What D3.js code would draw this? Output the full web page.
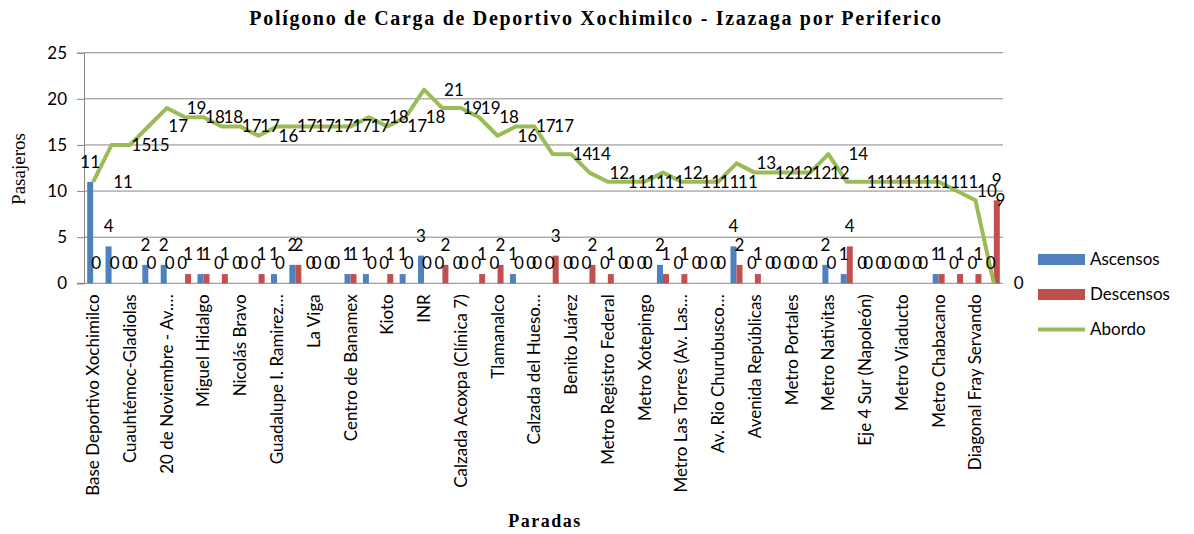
<!DOCTYPE html>
<html>
<head>
    <meta charset="utf-8">
    <style>
        body {
            margin: 0;
            background: white;
        }

        svg {
            display: block;
            font-family: Lato, 'Open Sans', sans-serif;
        }

        .titulo {
            font-family: 'Liberation Serif', 'Times New Roman', serif;
            font-weight: bold;
        }
    </style>
</head>
<body>
    <svg width="1194" height="534"></svg>

<script src="https://d3js.org/d3.v7.min.js"></script>
<script>
    // labels shown under the axis (every other stop)
    let etiquetas = [
        "Base Deportivo Xochimilco", "Cuauhtémoc-Gladiolas", "20 de Noviembre - Av.…",
        "Miguel Hidalgo", "Nicolás Bravo", "Guadalupe I. Ramirez…", "La Viga",
        "Centro de Banamex", "Kioto", "INR", "Calzada Acoxpa (Clínica 7)", "Tlamanalco",
        "Calzada del Hueso…", "Benito Juárez", "Metro Registro Federal", "Metro Xotepingo",
        "Metro Las Torres (Av. Las…", "Av. Rio Churubusco…", "Avenida Repúblicas",
        "Metro Portales", "Metro Nativitas", "Eje 4 Sur (Napoleón)", "Metro Viaducto",
        "Metro Chabacano", "Diagonal Fray Servando"
    ]

    let ascensos = [11, 4, 0, 2, 2, 0, 1, 0, 0, 0, 1, 2, 0, 0, 1, 1, 0, 1, 3, 0,
        0, 0, 0, 1, 0, 0, 0, 0, 0, 0, 0, 2, 0, 0, 0, 4, 0, 0, 0, 0,
        2, 1, 0, 0, 0, 0, 1, 0, 0, 0]
    let descensos = [0, 0, 0, 0, 0, 1, 1, 1, 0, 1, 0, 2, 0, 0, 1, 0, 1, 0, 0, 2,
        0, 1, 2, 0, 0, 3, 0, 2, 1, 0, 0, 1, 1, 0, 0, 2, 1, 0, 0, 0,
        0, 4, 0, 0, 0, 0, 1, 1, 1, 9]
    let abordo = [11, 15, 15, 17, 19, 18, 18, 17, 17, 16, 17, 17, 17, 17, 17, 18, 17, 18, 21, 19,
        19, 18, 16, 17, 17, 14, 14, 12, 11, 11, 11, 12, 11, 11, 11, 13, 12, 12, 12, 12,
        14, 11, 11, 11, 11, 11, 11, 10, 9, 0]

    let yTicks = [0, 5, 10, 15, 20, 25]

    let series = [
        { name: "Ascensos", color: "#4F81BD" },
        { name: "Descensos", color: "#C0504D" },
        { name: "Abordo", color: "#9BBB59" }
    ]

    let svg = d3.select("svg")
    let plotLeft = 84, plotRight = 1003, plotTop = 52.7, plotBottom = 283.3
    let labelFont = 17

    let x = d3.scaleBand()
        .domain(d3.range(abordo.length))
        .range([plotLeft, plotRight])

    let y = d3.scaleLinear()
        .domain([0, 25])
        .range([plotBottom, plotTop])

    // gridlines + y axis
    let yAxis = svg.append("g")
        .attr("transform", `translate(${plotLeft},0)`)
        .call(d3.axisLeft(y).tickValues(yTicks).tickSize(7).tickPadding(10))
    yAxis.select(".domain").attr("stroke", "#868686")
    yAxis.selectAll(".tick line").attr("stroke", "#868686")
    yAxis.selectAll(".tick text")
        .style("font-size", "17px")
        .style("font-family", "Lato, sans-serif")
        .attr("fill", "#000")

    svg.append("g")
        .selectAll("line")
        .data(yTicks.filter(d => d > 0))
        .join("line")
        .attr("x1", plotLeft)
        .attr("x2", plotRight)
        .attr("y1", d => y(d))
        .attr("y2", d => y(d))
        .attr("stroke", "#868686")
        .attr("stroke-width", 1)

    // x axis line
    svg.append("line")
        .attr("x1", plotLeft - 7)
        .attr("x2", plotRight)
        .attr("y1", plotBottom)
        .attr("y2", plotBottom)
        .attr("stroke", "#868686")

    let barW = 6
    let mid = i => x(i) + x.bandwidth() / 2

    // bars
    svg.append("g")
        .selectAll("rect")
        .data(ascensos)
        .join("rect")
        .attr("x", (d, i) => mid(i) - barW)
        .attr("y", d => y(d))
        .attr("width", barW)
        .attr("height", d => plotBottom - y(d))
        .attr("fill", series[0].color)

    svg.append("g")
        .selectAll("rect")
        .data(descensos)
        .join("rect")
        .attr("x", (d, i) => mid(i))
        .attr("y", d => y(d))
        .attr("width", barW)
        .attr("height", d => plotBottom - y(d))
        .attr("fill", series[1].color)

    // line
    let line = d3.line()
        .x((d, i) => mid(i))
        .y(d => y(d))

    svg.append("path")
        .datum(abordo)
        .attr("d", line)
        .attr("fill", "none")
        .attr("stroke", series[2].color)
        .attr("stroke-width", 4)
        .attr("stroke-linejoin", "round")

    // data labels
    svg.append("g")
        .selectAll("text")
        .data(ascensos)
        .join("text")
        .attr("x", (d, i) => mid(i) - barW / 2)
        .attr("y", d => y(d) - 20)
        .attr("dy", "0.35em")
        .attr("text-anchor", "middle")
        .style("font-size", labelFont + "px")
        .text(d => d)

    svg.append("g")
        .selectAll("text")
        .data(descensos)
        .join("text")
        .attr("x", (d, i) => mid(i) + barW / 2)
        .attr("y", d => y(d) - 20)
        .attr("dy", "0.35em")
        .attr("text-anchor", "middle")
        .style("font-size", labelFont + "px")
        .text(d => d)

    svg.append("g")
        .selectAll("text")
        .data(abordo)
        .join("text")
        .attr("x", (d, i) => mid(i) + 20)
        .attr("y", d => y(d))
        .attr("dy", "0.35em")
        .style("font-size", labelFont + "px")
        .text(d => d)

    // category labels, rotated
    svg.append("g")
        .selectAll("text")
        .data(etiquetas)
        .join("text")
        .attr("transform", (d, i) => `translate(${mid(i * 2) + 6},${plotBottom + 11}) rotate(-90)`)
        .attr("text-anchor", "end")
        .style("font-size", "17px")
        .text(d => d)

    // titles
    svg.append("text")
        .attr("class", "titulo")
        .attr("x", 596)
        .attr("y", 25)
        .attr("text-anchor", "middle")
        .style("font-size", "20px")
        .style("letter-spacing", "1.7px")
        .text("Polígono de Carga de Deportivo Xochimilco - Izazaga por Periferico")

    svg.append("text")
        .attr("class", "titulo")
        .attr("x", 545)
        .attr("y", 527)
        .attr("text-anchor", "middle")
        .style("font-size", "18px")
        .style("letter-spacing", "1.5px")
        .text("Paradas")

    svg.append("text")
        .attr("class", "titulo")
        .attr("transform", "translate(25,169) rotate(-90)")
        .attr("text-anchor", "middle")
        .style("font-size", "19px")
        .style("font-weight", "normal")
        .text("Pasajeros")

    // legend
    let legend = svg.append("g")
        .selectAll("g")
        .data(series)
        .join("g")
        .attr("transform", (d, i) => `translate(1038,${259.5 + i * 35})`)

    legend.filter((d, i) => i < 2)
        .append("rect")
        .attr("x", 0)
        .attr("y", -5.5)
        .attr("width", 47)
        .attr("height", 11)
        .attr("fill", d => d.color)

    legend.filter((d, i) => i == 2)
        .append("line")
        .attr("x1", 0)
        .attr("x2", 47)
        .attr("stroke", d => d.color)
        .attr("stroke-width", 4)

    legend.append("text")
        .attr("x", 52)
        .attr("dy", "0.35em")
        .style("font-size", "17px")
        .text(d => d.name)
</script>
</body>
</html>
